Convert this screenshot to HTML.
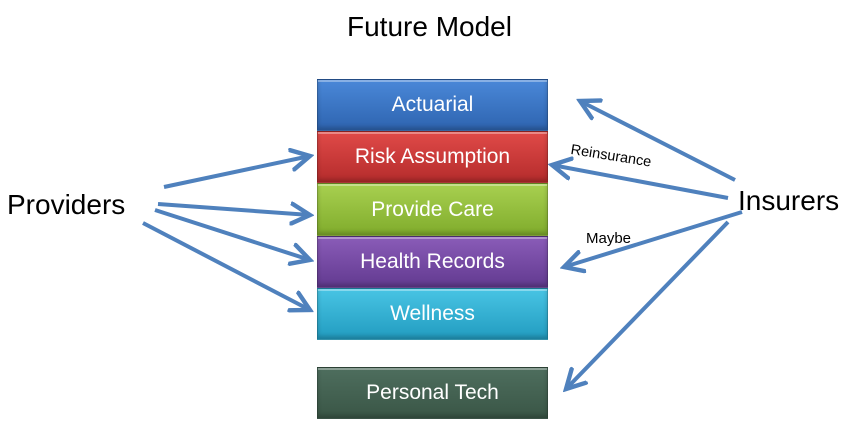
<!DOCTYPE html>
<html><head><style>
body{margin:0;width:860px;height:439px;background:#fff;position:relative;overflow:hidden;font-family:"Liberation Sans",sans-serif}
.b{position:absolute;left:317px;width:231px;color:#fff;font-size:21px;text-align:center;box-sizing:border-box;border:1px solid rgba(0,0,0,.25);box-shadow:inset 0 2px 0 rgba(255,255,255,.35),inset 0 -3px 4px rgba(0,0,0,.2)}
.t{position:absolute;color:#000;white-space:nowrap}
</style></head><body>
<div class="t" style="left:347px;top:11px;font-size:28px">Future Model</div>
<div class="t" style="left:7px;top:189px;font-size:28px">Providers</div>
<div class="t" style="left:738px;top:185px;font-size:28px">Insurers</div>
<div class="b" style="top:79px;height:52px;line-height:50px;background:linear-gradient(#4a88d8,#2e64b0)">Actuarial</div>
<div class="b" style="top:131px;height:52px;line-height:50px;background:linear-gradient(#e04a48,#b52c2c)">Risk Assumption</div>
<div class="b" style="top:183px;height:53px;line-height:51px;background:linear-gradient(#a8d050,#80ac2c)">Provide Care</div>
<div class="b" style="top:236px;height:52px;line-height:50px;background:linear-gradient(#8a5cb8,#623a90)">Health Records</div>
<div class="b" style="top:288px;height:52px;line-height:50px;background:linear-gradient(#48c4e4,#229cc0)">Wellness</div>
<div class="b" style="top:367px;height:52px;line-height:50px;background:linear-gradient(#4e6e5e,#3a5646)">Personal Tech</div>
<div class="t" style="left:572px;top:142px;font-size:14.5px;transform:rotate(9deg);transform-origin:left top">Reinsurance</div>
<div class="t" style="left:586px;top:230px;font-size:15px">Maybe</div>
<svg width="860" height="439" style="position:absolute;left:0;top:0">
<defs><marker id="a" markerWidth="6" markerHeight="6" refX="5" refY="3" orient="auto" markerUnits="strokeWidth"><path d="M0,0.3 L5,3 L0,5.7" fill="none" stroke="#4f81bd" stroke-width="1.1"/></marker></defs>
<g stroke="#4f81bd" stroke-width="4" fill="none" marker-end="url(#a)">
<line x1="164" y1="187" x2="310" y2="156"/>
<line x1="158" y1="204" x2="310" y2="215"/>
<line x1="155" y1="210" x2="310" y2="260"/>
<line x1="143" y1="223" x2="310" y2="310"/>
<line x1="735" y1="180" x2="580" y2="101"/>
<line x1="728" y1="198" x2="552" y2="165"/>
<line x1="742" y1="212" x2="564" y2="267"/>
<line x1="728" y1="222" x2="566" y2="389"/>
</g></svg>
</body></html>
